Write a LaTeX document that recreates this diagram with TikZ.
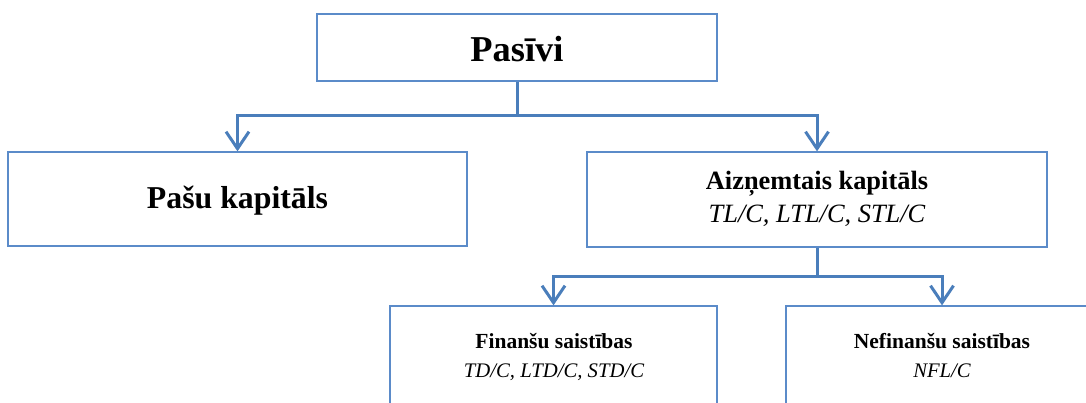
\documentclass[tikz,border=0pt]{standalone}
\usepackage{fontspec}
\setmainfont{Liberation Serif}
\usetikzlibrary{arrows.meta}
\definecolor{boxline}{HTML}{5B8BC9}
\definecolor{connline}{HTML}{4A7EBB}
\tikzset{
  box/.style={draw=boxline, line width=1.3pt, rectangle, inner sep=0pt},
  conn/.style={draw=connline, line width=3pt,
    -{Straight Barb[length=17pt,width=23pt,line width=3pt]}},
  stem/.style={draw=connline, line width=3pt},
  txt/.style={anchor=base, inner sep=0pt, text=black},
}
\newcommand{\fs}[1]{\fontsize{#1}{#1}\selectfont}
\begin{document}
\begin{tikzpicture}[x=1pt,y=-1pt]
  \useasboundingbox (0,0) rectangle (1086,403);
  \clip (0,0) rectangle (1086,403);
  \fill[white] (0,0) rectangle (1086,403);

  % boxes
  \node[box, minimum width=400pt, minimum height=67pt] (top) at (517,47.5) {};
  \node[box, minimum width=459pt, minimum height=94pt] (equity) at (237.5,199) {};
  \node[box, minimum width=460pt, minimum height=95pt] (debt) at (817,199.5) {};
  \node[box, minimum width=327pt, minimum height=120pt] (fin) at (553.5,366) {};
  \node[box, minimum width=312pt, minimum height=120pt] (nonfin) at (942,366) {};

  % labels
  \node[txt] (tTop) at (517,62) {\fs{36.4}\bfseries Pasīvi};
  \node[txt] (tEquity) at (237.5,209) {\fs{31.8}\bfseries Pašu kapitāls};
  \node[txt] (tDebt) at (817,190) {\fs{26.4}\bfseries Aizņemtais kapitāls};
  \node[txt] (tDebtR) at (817,223) {\fs{26.4}\itshape TL/C, LTL/C, STL/C};
  \node[txt] (tFin) at (554,348) {\fs{21.5}\bfseries Finanšu saistības};
  \node[txt] (tFinR) at (554,377) {\fs{20.7}\itshape TD/C, LTD/C, STD/C};
  \node[txt] (tNon) at (942,348) {\fs{21.5}\bfseries Nefinanšu saistības};
  \node[txt] (tNonR) at (942,377) {\fs{20.7}\itshape NFL/C};

  % connectors
  \coordinate (j1) at (517,116);
  \coordinate (j2) at (817,276);
  \draw[stem] (top.south) -- (j1);
  \draw[conn] (j1) -| (equity.north);
  \draw[conn] (j1) -| (debt.north);
  \draw[stem] (debt.south) -- (j2);
  \draw[conn] (j2) -| (fin.north);
  \draw[conn] (j2) -| (nonfin.north);
\end{tikzpicture}
\end{document}
